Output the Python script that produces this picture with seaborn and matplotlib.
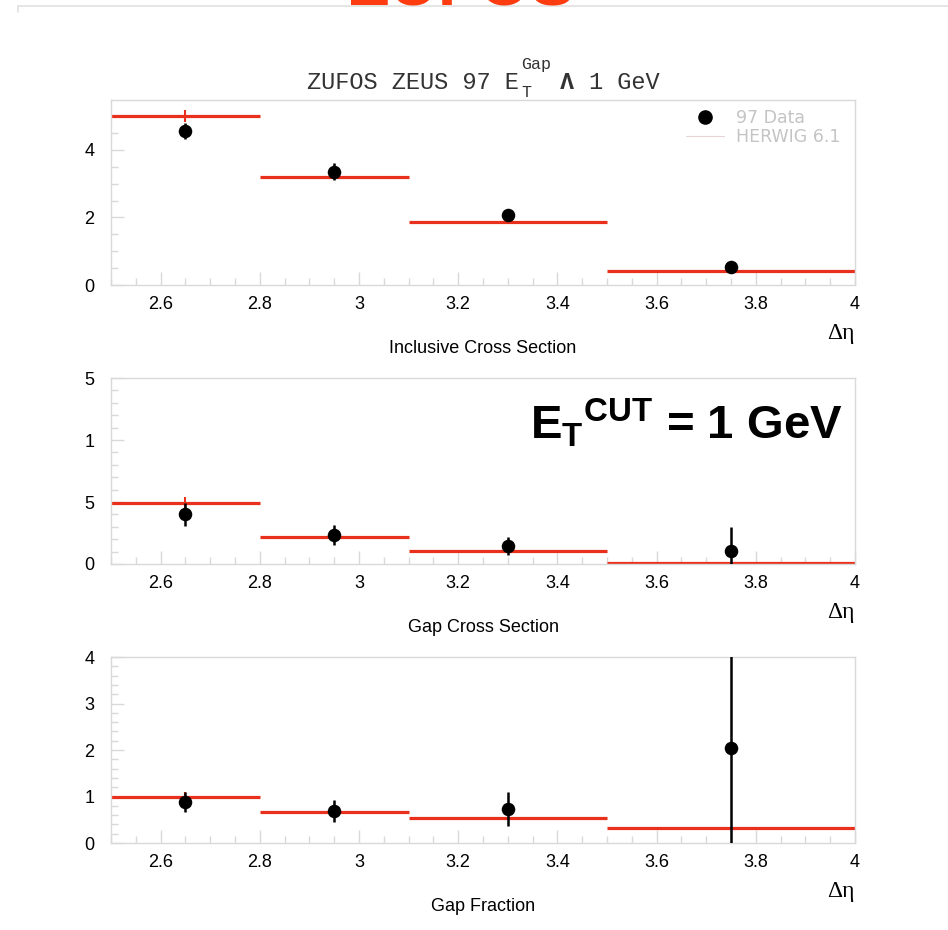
import numpy as np
import pandas as pd
import matplotlib
matplotlib.use("Agg")
import matplotlib.pyplot as plt
from matplotlib.lines import Line2D
from matplotlib.ticker import MultipleLocator, FixedLocator, FixedFormatter
import seaborn as sns

# ---- data -------------------------------------------------------------
bin_lo = [2.5, 2.8, 3.1, 3.5]
bin_hi = [2.8, 3.1, 3.5, 4.0]
bin_mid = [2.65, 2.95, 3.3, 3.75]

# Inclusive cross section
incl_data = [4.56, 3.35, 2.07, 0.53]
incl_err = [0.24, 0.25, 0.12, 0.06]
incl_mc = [5.01, 3.20, 1.87, 0.41]
incl_mc_err = [0.18, 0.05, 0.04, 0.02]

# Gap cross section
gap_data = [0.40, 0.234, 0.145, 0.105]
gap_err = [0.09, 0.08, 0.07, 0.19]
gap_mc = [0.49, 0.218, 0.105, 0.01]
gap_mc_err = [0.05, 0.01, 0.01, 0.005]

# Gap fraction
frac_data = [0.88, 0.69, 0.73, 2.04]
frac_err = [0.22, 0.24, 0.37, 2.2]
frac_mc = [0.99, 0.67, 0.54, 0.32]
frac_mc_err = [0.10, 0.02, 0.02, 0.01]

panel_titles = ["Inclusive Cross Section", "Gap Cross Section", "Gap Fraction"]
gap_ytick_vals = [0, 0.5, 1.0, 1.5]
gap_ytick_labels = ["0", "5", "1", "5"]

# ---- style ------------------------------------------------------------
sns.set_theme(style="white")
plt.rcParams["font.family"] = ["Liberation Sans", "DejaVu Sans"]
plt.rcParams["mathtext.fontset"] = "custom"
plt.rcParams["mathtext.rm"] = "Liberation Sans"
plt.rcParams["mathtext.bf"] = "Liberation Sans:bold"

W, H = 948, 930
fig = plt.figure(figsize=(W / 100, H / 100), dpi=100)
fig.patch.set_facecolor("white")


def fx(x):
    return x / W


def fy(y):
    return 1 - y / H


RED = "#e8301c"
SPINE = "#d9d9d9"

panels = [
    dict(top=100, bot=285, data=incl_data, err=incl_err, mc=incl_mc, mcerr=incl_mc_err,
         ylim=(0, 5.48), major=2, minor=0.5),
    dict(top=378, bot=564, data=gap_data, err=gap_err, mc=gap_mc, mcerr=gap_mc_err,
         ylim=(0, 1.5), major=None, minor=0.1),
    dict(top=657, bot=843, data=frac_data, err=frac_err, mc=frac_mc, mcerr=frac_mc_err,
         ylim=(0, 4.0), major=1, minor=0.2),
]

axes = []
for i, p in enumerate(panels):
    ax = fig.add_axes([fx(111), fy(p["bot"]), fx(855) - fx(111), (p["bot"] - p["top"]) / H])
    axes.append(ax)

    # HERWIG histogram bars with their small errors
    ax.hlines(p["mc"], bin_lo, bin_hi, colors=RED, lw=2.3, zorder=2)
    ax.errorbar(bin_mid, p["mc"], yerr=p["mcerr"], fmt="none", ecolor=RED,
                elinewidth=1.5, capsize=0, zorder=2)

    # data points
    df = pd.DataFrame({"x": bin_mid, "y": p["data"]})
    ax.errorbar(bin_mid, p["data"], yerr=p["err"], fmt="none", ecolor="black",
                elinewidth=1.8, capsize=0, zorder=3)
    sns.scatterplot(data=df, x="x", y="y", ax=ax, color="black", s=95,
                    edgecolor="black", linewidth=0, zorder=4, legend=False)

    ax.set_xlim(2.5, 4.0)
    ax.set_ylim(*p["ylim"])
    ax.set_xlabel("")
    ax.set_ylabel("")

    ax.xaxis.set_major_locator(FixedLocator([2.6, 2.8, 3.0, 3.2, 3.4, 3.6, 3.8, 4.0]))
    ax.xaxis.set_major_formatter(FixedFormatter(["2.6", "2.8", "3", "3.2", "3.4", "3.6", "3.8", "4"]))
    ax.xaxis.set_minor_locator(MultipleLocator(0.05))
    if p["major"] is None:
        ax.yaxis.set_major_locator(FixedLocator(gap_ytick_vals))
        ax.yaxis.set_major_formatter(FixedFormatter(gap_ytick_labels))
    else:
        ax.yaxis.set_major_locator(MultipleLocator(p["major"]))
        ax.yaxis.set_major_formatter(matplotlib.ticker.FormatStrFormatter("%d"))
    ax.yaxis.set_minor_locator(MultipleLocator(p["minor"]))

    ax.tick_params(axis="both", which="major", direction="in", length=9.5, width=1.0,
                   color=SPINE, labelsize=13, labelcolor="black")
    ax.tick_params(axis="both", which="minor", direction="in", length=5, width=1.0,
                   color=SPINE)
    ax.tick_params(axis="x", which="major", pad=8)
    ax.tick_params(axis="y", which="major", pad=12)
    ax.tick_params(top=False, right=False, which="both", bottom=True, left=True)
    for s in ax.spines.values():
        s.set_color(SPINE)
        s.set_linewidth(1.0)
    ax.set_facecolor("white")

    # axis annotations below each panel
    ax.text(1.0, -0.205, "Δη", transform=ax.transAxes, ha="right", va="top",
            fontsize=17, family=["Liberation Serif", "DejaVu Serif"], color="black")
    fig.text(fx(483), fy(p["bot"] + 63), panel_titles[i], ha="center", va="center",
             fontsize=13, color="black")

# legend in the top panel
handles = [
    Line2D([], [], marker="o", color="black", linestyle="none", markersize=9.5),
    Line2D([], [], color="#e6d3d3", lw=0.8),
]
leg = axes[0].legend(handles, ["97 Data", "HERWIG 6.1"], loc="upper right",
                     bbox_to_anchor=(0.995, 1.005), frameon=False, fontsize=12.5,
                     handlelength=2.2, handletextpad=0.7, labelspacing=0.05,
                     borderaxespad=0.2)
for t in leg.get_texts():
    t.set_color("#c4c4c4")
    t.set_family("DejaVu Sans")

# title line in a typewriter face
mono = ["Liberation Mono", "DejaVu Sans Mono"]
fig.text(fx(307), fy(89), "ZUFOS ZEUS 97 E", ha="left", va="baseline",
         fontsize=17, family=mono, color="#333333")
fig.text(fx(521), fy(97), "T", ha="left", va="baseline", fontsize=12, family=mono,
         color="#333333")
fig.text(fx(521), fy(69), "Gap", ha="left", va="baseline", fontsize=12, family=mono,
         color="#333333")
fig.text(fx(560), fy(89), "Λ", ha="left", va="baseline", fontsize=17, family=mono,
         color="#333333", fontweight="bold")
fig.text(fx(589), fy(89), "1 GeV", ha="left", va="baseline", fontsize=17, family=mono,
         color="#333333")

# large cut annotation: E, subscript T, then superscript CUT
fig.text(fx(843), fy(439), r"$\mathbf{E}_{\mathbf{T}}{}^{\mathbf{CUT}}$ = 1 GeV",
         ha="right", va="baseline", fontsize=34, fontweight="bold", color="black")

# heading running off the top edge, with the rule beneath it
fig.text(fx(462), fy(5), "ZUFOS", ha="center", va="baseline", fontsize=48,
         fontweight="bold", color="#ff3b10")
fig.add_artist(Line2D([fx(18), 1.0], [fy(6), fy(6)], color="#e0e0e0", lw=1.2,
                      transform=fig.transFigure))
fig.add_artist(Line2D([fx(18), fx(18)], [fy(6), fy(12)], color="#e0e0e0", lw=1.2,
                      transform=fig.transFigure))

fig.savefig("out.png", dpi=100, facecolor="white")
